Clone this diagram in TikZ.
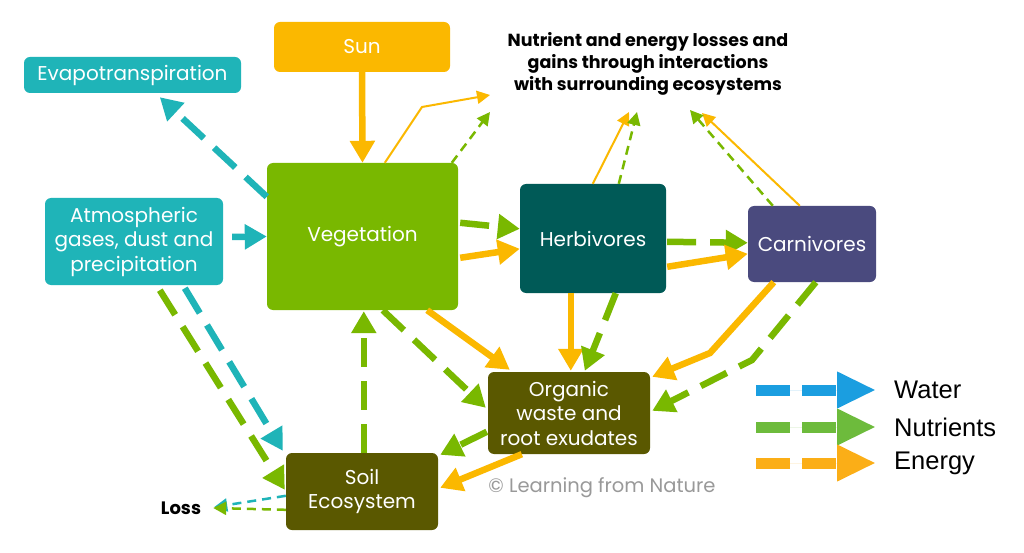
\documentclass[tikz,border=0pt]{standalone}
\usepackage{fontspec}
\setmainfont{Poppins}
\newfontfamily\arial{Liberation Sans}
\usetikzlibrary{arrows.meta,calc}
\definecolor{cOr}{HTML}{FBB800}
\definecolor{cGr}{HTML}{79B800}
\definecolor{cTe}{HTML}{1FB4B8}
\definecolor{cHe}{HTML}{005A57}
\definecolor{cCa}{HTML}{4A4A7E}
\definecolor{cOl}{HTML}{5A5800}
\definecolor{lBl}{HTML}{1B9EE0}
\definecolor{lGr}{HTML}{6DBB3C}
\definecolor{lOr}{HTML}{FBAE17}
\begin{document}
\begin{tikzpicture}[x=1pt,y=-1pt,
  box/.style={rounded corners=6pt, inner sep=0pt, text=white, align=center,
    font=\fontsize{20}{24.5}\selectfont},
  bigtip/.style={-{Triangle[length=22pt,width=24pt]}},
  smalltip/.style={-{Triangle[length=13pt,width=13pt]}},
  en/.style={draw=cOr, line width=6.5pt, bigtip},
  nu/.style={draw=cGr, line width=6.5pt, dash pattern=on 29pt off 14pt, bigtip},
  wa/.style={draw=cTe, line width=6.5pt, dash pattern=on 29pt off 14pt, bigtip},
  enthin/.style={draw=cOr, line width=2pt, smalltip},
  nuthin/.style={draw=cGr, line width=2.5pt, dash pattern=on 9pt off 6pt, smalltip},
  wathin/.style={draw=cTe, line width=2.5pt, dash pattern=on 9pt off 6pt, smalltip},
  legarrow/.style={line width=11pt, dash pattern=on 34pt off 12pt, -{Triangle[length=39pt,width=34pt]}},
  legtext/.style={anchor=west, font=\arial\fontsize{25.5}{25.5}\selectfont, inner sep=0pt}
]
\useasboundingbox[fill=white] (0,0) rectangle (1024,553);

% nodes
\node[box, fill=cOr, minimum width=176pt, minimum height=50pt] (sun) at (362,47) {Sun};
\node[box, fill=cTe, minimum width=217pt, minimum height=36pt] (evap) at (132.5,75) {Evapotranspiration};
\node[box, fill=cTe, minimum width=178pt, minimum height=87pt] (atm) at (134,241.5) {Atmospheric\\gases, dust and\\precipitation};
\node[box, fill=cGr, minimum width=191pt, minimum height=147pt] (veg) at (362.5,236.5) {Vegetation};
\node[box, fill=cHe, minimum width=146pt, minimum height=109pt] (herb) at (593,238.5) {Herbivores};
\node[box, fill=cCa, minimum width=128pt, minimum height=76pt] (carn) at (812,244) {Carnivores};
\node[box, fill=cOl, minimum width=162pt, minimum height=82pt] (org) at (569,413) {Organic\\waste and\\root exudates};
\node[box, fill=cOl, minimum width=152pt, minimum height=77pt] (soil) at (362,491.5) {Soil\\Ecosystem};

\node[font=\bfseries\fontsize{17.5}{22}\selectfont, align=center, inner sep=0pt] (note) at (648,64)
  {Nutrient and energy losses and\\gains through interactions\\with surrounding ecosystems};
\node[font=\bfseries\fontsize{18}{18}\selectfont, inner sep=0pt] (loss) at (181,508) {Loss};
\node[text=black!40, font=\fontsize{19.5}{19.5}\selectfont, inner sep=0pt] (copy) at (602,488) {© Learning from Nature};

% free ends near the note
\coordinate (n1) at (490,95);
\coordinate (n2) at (490,112);
\coordinate (n3) at (629,112);
\coordinate (n4) at (637,112);
\coordinate (n5) at (702,113);
\coordinate (n6) at (690,110);

% thin arrows to surroundings
\draw[enthin] ($(veg.north west)+(118,0)$) -- (422,107) -- (n1);
\draw[nuthin] ($(veg.north west)+(185,0)$) -- (n2);
\draw[enthin] ($(herb.north west)+(73,0)$) -- (n3);
\draw[nuthin] ($(herb.north west)+(99,0)$) -- (n4);
\draw[enthin] ($(carn.north west)+(52,0)$) -- (n5);
\draw[nuthin] ($(carn.north west)+(25,0)$) -- (n6);

% main arrows
\draw[en] (sun.south) -- (veg.north);
\draw[wa] ($(veg.north west)+(0,34)$) -- ($(evap.south west)+(136,4)$);
\draw[draw=cTe, line width=6.5pt, bigtip] ($(atm.east)+(9,-4.5)$) -- (veg.west);

\draw[nu] ($(veg.north east)+(2,60)$) -- ($(herb.north west)+(0,45)$);
\draw[en] ($(veg.north east)+(2,95)$) -- ($(herb.north west)+(0,65)$);
\draw[nu] ($(herb.north east)+(1,58)$) -- ($(carn.north west)+(0,37)$);
\draw[en] ($(herb.north east)+(1,83)$) -- ($(carn.north west)+(0,48)$);

\draw[en] ($(veg.south east)+(-31,0)$) -- ($(org.north west)+(22,-2)$);
\draw[nu] ($(veg.south west)+(116,0)$) -- ($(org.north west)+(-2,36)$);
\draw[en] ($(herb.south west)+(51,0)$) -- ($(org.north west)+(83,-1)$);
\draw[nu] ($(herb.south west)+(96,0)$) -- ($(org.north west)+(97,-1)$);
\draw[en] ($(carn.south west)+(26,0)$) -- (710,353) -- ($(org.north east)+(2,5)$);
\draw[nu] ($(carn.south west)+(68,0)$) -- (752,360) -- ($(org.north east)+(2,39)$);

\draw[nu] ($(org.north west)+(-1,60)$) -- ($(soil.north east)+(2,2)$);
\draw[en] ($(org.south west)+(34,0)$) -- ($(soil.north east)+(2,35)$);
\draw[nu] ($(soil.north west)+(78,0)$) -- ($(veg.south west)+(97,1)$);

\draw[wa] ($(atm.south west)+(140,3)$) -- ($(soil.north west)+(-3,-2)$);
\draw[nu] ($(atm.south west)+(115,5)$) -- ($(soil.north west)+(-1,37)$);

\draw[wathin] ($(soil.north west)+(0,43)$) -- ($(loss.east)+(13,-1)$);
\draw[nuthin] ($(soil.north west)+(0,57)$) -- ($(loss.east)+(12,0)$);

% legend
\node[legtext] (lw) at (894,390) {Water};
\node[legtext] (ln) at (894,427) {Nutrients};
\node[legtext] (le) at (894,463) {Energy};
\draw[legarrow, draw=lBl, fill=lBl] ($(lw.west)+(-138,0)$) -- ($(lw.west)+(-18,0)$);
\draw[legarrow, draw=lGr, fill=lGr] ($(ln.west)+(-138,0)$) -- ($(ln.west)+(-18,0)$);
\draw[legarrow, draw=lOr, fill=lOr] ($(le.west)+(-138,0)$) -- ($(le.west)+(-18,0)$);
\end{tikzpicture}
\end{document}
